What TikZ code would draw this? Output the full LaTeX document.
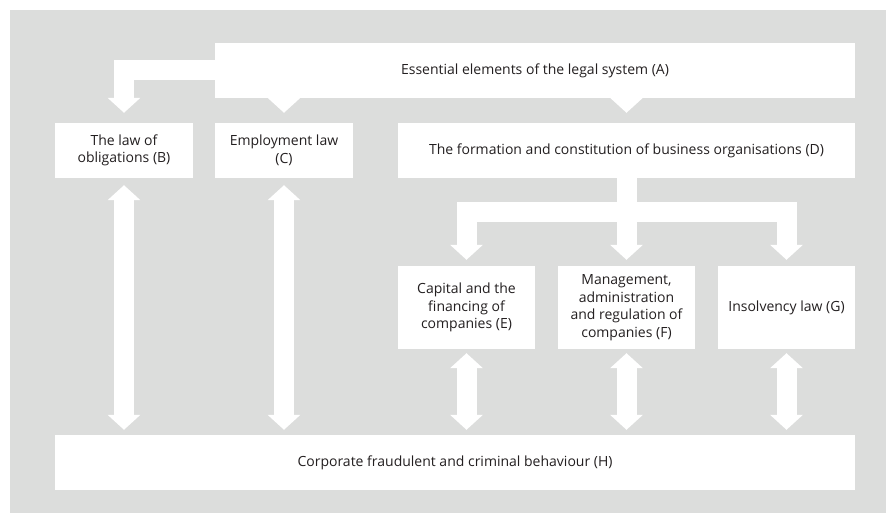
\documentclass[tikz,border=0pt]{standalone}
\usepackage{fontspec}
\setmainfont{Open Sans}
\usetikzlibrary{arrows.meta}

\definecolor{bggray}{HTML}{DCDDDC}
\definecolor{ink}{HTML}{231F20}

\tikzset{
  box/.style={fill=white,inner sep=0pt,align=center,text=ink,
    font=\fontsize{14}{17.5}\selectfont},
  conn/.style={draw=white,line width=20pt,
    -{Triangle[width=32pt,length=15pt]}},
  dconn/.style={draw=white,line width=20pt,
    {Triangle[width=32pt,length=15pt]}-{Triangle[width=32pt,length=15pt]}}
}

\begin{document}
\begin{tikzpicture}[x=1pt,y=-1pt]
 \useasboundingbox (0,0) rectangle (886,513);
 \fill[bggray] (10,10) rectangle (886,513);
 % boxes
 \node[box,minimum width=640pt,minimum height=55pt] (A) at (535,70.5) {Essential elements of the legal system (A)};
 \node[box,minimum width=138pt,minimum height=55pt] (B) at (124,150.5) {The law of\\obligations (B)};
 \node[box,minimum width=138pt,minimum height=55pt] (C) at (284,150.5) {Employment law\\(C)};
 \node[box,minimum width=457pt,minimum height=55pt] (D) at (626.5,150.5) {The formation and constitution of business organisations (D)};
 \node[box,minimum width=137pt,minimum height=83pt] (E) at (466.5,307.5) {Capital and the\\financing of\\companies (E)};
 \node[box,minimum width=137pt,minimum height=83pt] (F) at (626.5,307.5) {Management,\\administration\\and regulation of\\companies (F)};
 \node[box,minimum width=137pt,minimum height=83pt] (G) at (786.5,307.5) {Insolvency law (G)};
 \node[box,minimum width=800pt,minimum height=55pt] (H) at (455,462.5) {Corporate fraudulent and criminal behaviour (H)};
 % A to B, C, D
 \draw[conn,shorten >=10pt] (A.west) -| (B.north);
 \draw[conn,shorten >=10pt] (A.south -| C.north) -- (C.north);
 \draw[conn,shorten >=10pt] (A.south -| D.north) -- (D.north);
 % D to E, F, G
 \coordinate (bar) at (626.5,212);
 \draw[conn,shorten >=6pt] (D.south) -- (bar) -| (E.north);
 \draw[conn,shorten >=6pt] (D.south) -- (F.north);
 \draw[conn,shorten >=6pt] (D.south) -- (bar) -| (G.north);
 % to H
 \draw[dconn,shorten <=7pt,shorten >=5pt] (B.south) -- (B.south |- H.north);
 \draw[dconn,shorten <=7pt,shorten >=5pt] (C.south) -- (C.south |- H.north);
 \foreach \n in {E,F,G}
  \draw[dconn,shorten <=4pt,shorten >=5pt] (\n.south) -- (\n.south |- H.north);
\end{tikzpicture}
\end{document}
